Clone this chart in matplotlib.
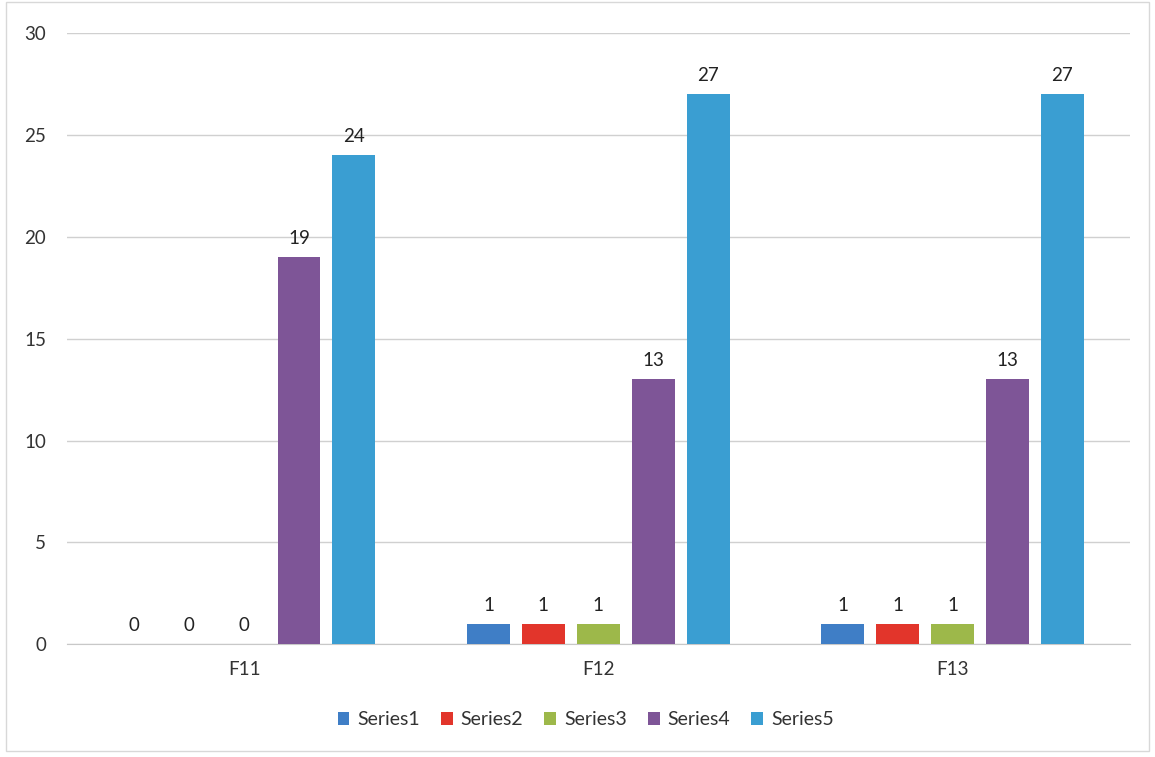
import numpy as np
import matplotlib.pyplot as plt
from matplotlib.patches import Rectangle

# chart data
categories = ["F11", "F12", "F13"]
series_names = ["Series1", "Series2", "Series3", "Series4", "Series5"]
series1 = [0, 1, 1]
series2 = [0, 1, 1]
series3 = [0, 1, 1]
series4 = [19, 13, 13]
series5 = [24, 27, 27]
colors = ["#3F7EC6", "#E2352B", "#9DB84A", "#7E5597", "#3A9ED2"]

plt.rcParams['font.family'] = ['Lato', 'DejaVu Sans']

fig = plt.figure(figsize=(11.55, 7.57), dpi=100)
ax = fig.add_axes([0.058, 0.149, 0.920, 0.807])

x = np.arange(len(categories))
step = 0.155
width = 0.121
all_series = [series1, series2, series3, series4, series5]
for i, vals in enumerate(all_series):
    pos = x + (i - 2) * step
    bars = ax.bar(pos, vals, width, color=colors[i], label=series_names[i], zorder=3)
    for b, v in zip(bars, vals):
        ax.text(b.get_x() + b.get_width() / 2, v + 0.5, str(v),
                ha="center", va="bottom", fontsize=13.5, color="#222222")

ax.set_xlim(-0.5, 2.5)
ax.set_ylim(0, 30)
ax.set_yticks(range(0, 31, 5))
ax.set_xticks(x)
ax.set_xticklabels(categories)
ax.grid(axis="y", color="#D0D0D0", linewidth=1, zorder=0)
for s in ["top", "right", "left"]:
    ax.spines[s].set_visible(False)
ax.spines["bottom"].set_color("#C8C8C8")
ax.tick_params(axis="both", length=0, labelsize=13.5, colors="#333333")
ax.tick_params(axis="y", pad=15)
ax.tick_params(axis="x", pad=12)

leg = fig.legend(loc="center", bbox_to_anchor=(0.507, 0.049), ncol=5, frameon=False,
                 fontsize=14, handlelength=0.6, handleheight=0.6,
                 handletextpad=0.4, columnspacing=1.1)
for t in leg.get_texts():
    t.set_color("#333333")

# outer chart border
fig.patches.append(Rectangle((0.005, 0.008), 0.99, 0.99, transform=fig.transFigure,
                             fill=False, edgecolor="#D8D8D8", linewidth=1))

fig.savefig("out.png", dpi=100)
